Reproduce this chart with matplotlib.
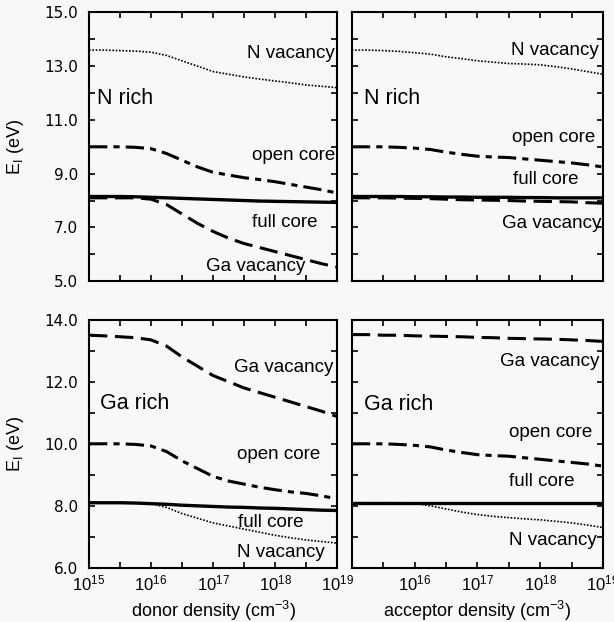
import numpy as np
import matplotlib
matplotlib.use("Agg")
from matplotlib import pyplot as plt
from matplotlib import ticker

plt.rcParams['font.family'] = ['Liberation Sans', 'DejaVu Sans']
plt.rcParams['mathtext.fontset'] = 'custom'
plt.rcParams['mathtext.rm'] = 'Liberation Sans'
plt.rcParams['mathtext.it'] = 'Liberation Sans'

# density grid (exponents of 10, cm^-3), quarter decades
log_density = [15, 15.25, 15.5, 15.75, 16, 16.25, 16.5, 16.75, 17,
               17.25, 17.5, 17.75, 18, 18.25, 18.5, 18.75, 19]

# N rich, donor
nr_don_nvac = [13.6, 13.6, 13.58, 13.56, 13.52, 13.4, 13.2, 13.0, 12.8,
               12.7, 12.6, 12.52, 12.45, 12.38, 12.3, 12.25, 12.2]
nr_don_open = [10.0, 10.0, 10.0, 9.98, 9.93, 9.75, 9.5, 9.25, 9.05,
               8.95, 8.85, 8.78, 8.7, 8.6, 8.5, 8.4, 8.28]
nr_don_full = [8.15, 8.15, 8.15, 8.14, 8.12, 8.1, 8.08, 8.06, 8.04,
               8.02, 8.0, 7.98, 7.97, 7.96, 7.95, 7.94, 7.93]
nr_don_gavac = [8.1, 8.1, 8.1, 8.1, 8.05, 7.85, 7.5, 7.15, 6.85,
                6.6, 6.4, 6.25, 6.1, 5.95, 5.8, 5.65, 5.52]

# N rich, acceptor
nr_acc_nvac = [13.6, 13.6, 13.58, 13.55, 13.5, 13.45, 13.35, 13.28, 13.2,
               13.15, 13.1, 13.08, 13.05, 12.98, 12.9, 12.8, 12.7]
nr_acc_open = [10.0, 10.0, 10.0, 9.98, 9.95, 9.9, 9.8, 9.72, 9.65,
               9.62, 9.6, 9.55, 9.5, 9.45, 9.4, 9.33, 9.25]
nr_acc_full = [8.15, 8.15, 8.15, 8.15, 8.14, 8.14, 8.13, 8.13, 8.12,
               8.12, 8.12, 8.11, 8.11, 8.1, 8.1, 8.1, 8.1]
nr_acc_gavac = [8.1, 8.1, 8.1, 8.09, 8.08, 8.07, 8.05, 8.03, 8.02,
                8.01, 8.0, 7.98, 7.97, 7.96, 7.95, 7.92, 7.9]

# Ga rich, donor
gr_don_gavac = [13.5, 13.48, 13.45, 13.42, 13.35, 13.15, 12.8, 12.5, 12.2,
                12.0, 11.8, 11.65, 11.5, 11.35, 11.2, 11.05, 10.88]
gr_don_open = [10.0, 10.0, 10.0, 9.98, 9.93, 9.75, 9.45, 9.2, 8.95,
               8.8, 8.7, 8.6, 8.52, 8.45, 8.4, 8.32, 8.23]
gr_don_full = [8.1, 8.1, 8.1, 8.09, 8.07, 8.05, 8.02, 8.0, 7.98,
               7.96, 7.95, 7.93, 7.92, 7.9, 7.88, 7.86, 7.85]
gr_don_nvac = [8.1, 8.1, 8.1, 8.09, 8.07, 7.95, 7.75, 7.6, 7.45,
               7.35, 7.25, 7.15, 7.05, 6.97, 6.9, 6.85, 6.8]

# Ga rich, acceptor
gr_acc_gavac = [13.52, 13.52, 13.5, 13.5, 13.48, 13.47, 13.46, 13.45, 13.43,
                13.42, 13.4, 13.39, 13.38, 13.37, 13.35, 13.33, 13.3]
gr_acc_open = [10.0, 10.0, 10.0, 9.98, 9.95, 9.9, 9.8, 9.72, 9.65,
               9.62, 9.6, 9.55, 9.5, 9.45, 9.4, 9.35, 9.28]
gr_acc_full = [8.1] * 17
gr_acc_nvac = [8.1, 8.1, 8.1, 8.1, 8.08, 8.0, 7.9, 7.8, 7.72,
               7.66, 7.62, 7.58, 7.55, 7.5, 7.45, 7.38, 7.3]

STYLE = {
    'nvac': dict(ls=(0, (1, 1)), lw=1.2),
    'open': dict(ls=(0, (6, 2, 2, 2)), lw=2.2),
    'full': dict(ls='-', lw=2.4),
    'gavac': dict(ls=(0, (6, 2.5)), lw=2.2),
}

BG = '#f8f8f8'
LBL = 13.5     # curve labels
REG = 15.5     # "N rich" / "Ga rich"
TICKFONT = dict(family='DejaVu Sans', size=11)

fig = plt.figure(figsize=(6.14, 6.22), dpi=100, facecolor=BG)

ax_tl = fig.add_axes([0.145, 0.548, 0.404, 0.432])
ax_tr = fig.add_axes([0.573, 0.548, 0.409, 0.432])
ax_bl = fig.add_axes([0.145, 0.087, 0.404, 0.399])
ax_br = fig.add_axes([0.573, 0.087, 0.409, 0.399])

x = 10.0 ** np.array(log_density)


def setup(ax, ylim, yticks, xlabels, ylabels, xfirst=True):
    ax.set_facecolor(BG)
    ax.set_xscale('log')
    ax.set_xlim(1e15, 1e19)
    ax.set_ylim(*ylim)
    ax.xaxis.set_major_locator(ticker.FixedLocator([1e15, 1e16, 1e17, 1e18, 1e19]))
    ax.xaxis.set_minor_locator(ticker.FixedLocator(10 ** np.array([15.5, 16.5, 17.5, 18.5])))
    ax.yaxis.set_major_locator(ticker.FixedLocator(yticks))
    ax.yaxis.set_minor_locator(ticker.MultipleLocator(1.0))
    ax.xaxis.set_minor_formatter(ticker.NullFormatter())
    ax.tick_params(which='both', direction='in', top=True, right=True,
                   length=4, width=1.2)
    ax.tick_params(axis='y', pad=8)
    ax.tick_params(axis='x', pad=4)
    for s in ax.spines.values():
        s.set_linewidth(1.5)
    if xlabels:
        labels = ['$\\mathdefault{10^{%d}}$' % e for e in [15, 16, 17, 18, 19]]
        if not xfirst:
            labels[0] = ''
        ax.set_xticklabels(labels, fontsize=12)
    else:
        ax.set_xticklabels([])
    if ylabels:
        ax.set_yticklabels(['%.1f' % v for v in yticks], fontdict=TICKFONT)
    else:
        ax.set_yticklabels([])


def lx(e):
    return 10.0 ** e


# top left
ax = ax_tl
ax.plot(x, nr_don_nvac, color='k', **STYLE['nvac'])
ax.plot(x, nr_don_open, color='k', **STYLE['open'])
ax.plot(x, nr_don_full, color='k', **STYLE['full'])
ax.plot(x, nr_don_gavac, color='k', **STYLE['gavac'])
setup(ax, (5.0, 15.0), [5, 7, 9, 11, 13, 15], False, True)
ax.set_ylabel('E$_\\mathrm{I}$ (eV)', fontsize=13)
ax.yaxis.set_label_coords(-0.255, 0.5)
ax.text(lx(15.13), 11.8, 'N rich', fontsize=REG, va='center')
ax.text(lx(18.97), 13.47, 'N vacancy', fontsize=LBL, ha='right', va='center')
ax.text(lx(18.97), 9.68, 'open core', fontsize=LBL, ha='right', va='center')
ax.text(lx(18.68), 7.2, 'full core', fontsize=LBL, ha='right', va='center')
ax.text(lx(16.88), 5.55, 'Ga vacancy', fontsize=LBL, ha='left', va='center')

# top right
ax = ax_tr
ax.plot(x, nr_acc_nvac, color='k', **STYLE['nvac'])
ax.plot(x, nr_acc_open, color='k', **STYLE['open'])
ax.plot(x, nr_acc_full, color='k', **STYLE['full'])
ax.plot(x, nr_acc_gavac, color='k', **STYLE['gavac'])
setup(ax, (5.0, 15.0), [5, 7, 9, 11, 13, 15], False, False)
ax.text(lx(15.2), 11.8, 'N rich', fontsize=REG, va='center')
ax.text(lx(18.94), 13.6, 'N vacancy', fontsize=LBL, ha='right', va='center')
ax.text(lx(18.87), 10.35, 'open core', fontsize=LBL, ha='right', va='center')
ax.text(lx(17.57), 8.78, 'full core', fontsize=LBL, ha='left', va='center')
ax.text(lx(18.97), 7.15, 'Ga vacancy', fontsize=LBL, ha='right', va='center')

# bottom left
ax = ax_bl
ax.plot(x, gr_don_gavac, color='k', **STYLE['gavac'])
ax.plot(x, gr_don_open, color='k', **STYLE['open'])
ax.plot(x, gr_don_full, color='k', **STYLE['full'])
ax.plot(x, gr_don_nvac, color='k', **STYLE['nvac'])
setup(ax, (6.0, 14.0), [6, 8, 10, 12, 14], True, True)
ax.set_ylabel('E$_\\mathrm{I}$ (eV)', fontsize=13)
ax.yaxis.set_label_coords(-0.255, 0.5)
ax.set_xlabel('donor density (cm$^{-3}$)', fontsize=13)
ax.text(lx(15.17), 11.3, 'Ga rich', fontsize=REG, va='center')
ax.text(lx(17.33), 12.45, 'Ga vacancy', fontsize=LBL, ha='left', va='center')
ax.text(lx(17.38), 9.65, 'open core', fontsize=LBL, ha='left', va='center')
ax.text(lx(17.4), 7.45, 'full core', fontsize=LBL, ha='left', va='center')
ax.text(lx(17.38), 6.48, 'N vacancy', fontsize=LBL, ha='left', va='center')

# bottom right
ax = ax_br
ax.plot(x, gr_acc_gavac, color='k', **STYLE['gavac'])
ax.plot(x, gr_acc_open, color='k', **STYLE['open'])
ax.plot(x, gr_acc_full, color='k', **STYLE['full'])
ax.plot(x, gr_acc_nvac, color='k', **STYLE['nvac'])
setup(ax, (6.0, 14.0), [6, 8, 10, 12, 14], True, False, xfirst=False)
ax.set_xlabel('acceptor density (cm$^{-3}$)', fontsize=13)
ax.text(lx(15.2), 11.26, 'Ga rich', fontsize=REG, va='center')
ax.text(lx(18.95), 12.65, 'Ga vacancy', fontsize=LBL, ha='right', va='center')
ax.text(lx(17.5), 10.35, 'open core', fontsize=LBL, ha='left', va='center')
ax.text(lx(17.5), 8.77, 'full core', fontsize=LBL, ha='left', va='center')
ax.text(lx(17.5), 6.87, 'N vacancy', fontsize=LBL, ha='left', va='center')

fig.savefig('out.png', dpi=100, facecolor=BG)
